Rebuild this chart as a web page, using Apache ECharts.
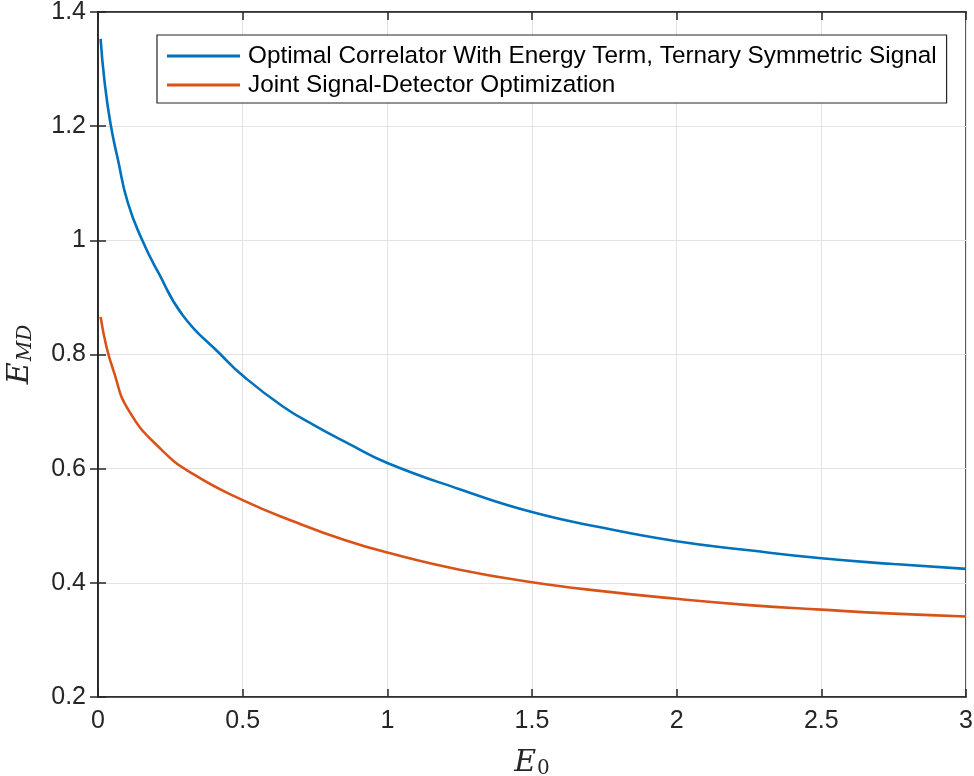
<!DOCTYPE html>
<html>
<head>
<meta charset="utf-8">
<script src="https://cdn.jsdelivr.net/npm/echarts@6/dist/echarts.min.js"></script>
<style>
html,body{margin:0;padding:0;background:#fff;}
#chart{width:974px;height:776px;}
</style>
</head>
<body>
<div id="chart"></div>
<script>
var seriesNames = [
  'Optimal Correlator With Energy Term, Ternary Symmetric Signal',
  'Joint Signal-Detector Optimization'
];
var blueX = [0.009, 0.022, 0.043, 0.069, 0.103, 0.153, 0.207, 0.294, 0.424, 0.5, 0.639, 0.754, 0.869, 1, 1.25, 1.5, 1.75, 2, 2.25, 2.5, 2.75, 3];
var blueY = [1.353, 1.281, 1.205, 1.141, 1.066, 1.0, 0.945, 0.868, 0.8, 0.763, 0.709, 0.674, 0.643, 0.61, 0.564, 0.524, 0.496, 0.473, 0.457, 0.443, 0.433, 0.4245];
var orangeX = [0.009, 0.029, 0.052, 0.105, 0.22, 0.334, 0.5, 0.679, 0.852, 1, 1.25, 1.5, 1.75, 2, 2.25, 2.5, 2.75, 3];
var orangeY = [0.866, 0.814, 0.774, 0.703, 0.633, 0.589, 0.545, 0.507, 0.475, 0.453, 0.423, 0.401, 0.385, 0.372, 0.361, 0.353, 0.346, 0.341];
var xTickLabels = ['0', '0.5', '1', '1.5', '2', '2.5', '3'];
var yTickLabels = ['0.2', '0.4', '0.6', '0.8', '1', '1.2', '1.4'];

function pairs(xs, ys) { return xs.map(function (x, i) { return [x, ys[i]]; }); }

var axisColor = '#262626';
var tickFont = { fontFamily: 'Liberation Sans, Arial, sans-serif', fontSize: 25, color: axisColor };

var chart = echarts.init(document.getElementById('chart'), null, { renderer: 'canvas' });
chart.setOption({
  animation: false,
  backgroundColor: '#fff',
  grid: { left: 98, right: 8, top: 12, bottom: 79, outerBoundsMode: 'none', containLabel: false, show: true, borderColor: axisColor, borderWidth: 1.5, backgroundColor: 'transparent' },
  legend: {
    left: 157, top: 35, orient: 'vertical',
    data: seriesNames,
    backgroundColor: '#fff',
    borderColor: axisColor, borderWidth: 1.2,
    padding: [9, 10, 6, 10],
    itemGap: 5, itemWidth: 73, itemHeight: 3, icon: 'rect',
    textStyle: { fontFamily: 'Liberation Sans, Arial, sans-serif', fontSize: 24.3, color: '#000', padding: [0, 0, 0, 3] }
  },
  xAxis: [{
    type: 'value', min: 0, max: 3, interval: 0.5,
    axisLine: { show: true, lineStyle: { color: axisColor, width: 1.5 } },
    axisTick: { show: true, inside: true, length: 8, lineStyle: { color: axisColor, width: 1.5 } },
    axisLabel: Object.assign({ margin: 12, formatter: function (v) { return xTickLabels[Math.round(v / 0.5)]; } }, tickFont),
    splitLine: { show: true, lineStyle: { color: '#e3e3e3', width: 1 } },
    name: '{e|E}{s|0}', nameLocation: 'middle', nameGap: 50,
    nameTextStyle: { rich: {
      e: { fontFamily: 'DejaVu Serif, Liberation Serif, serif', fontStyle: 'italic', fontSize: 30, color: axisColor },
      s: { fontFamily: 'DejaVu Serif, Liberation Serif, serif', fontSize: 20, color: axisColor, verticalAlign: 'bottom', padding: [12, 0, 0, 1] }
    } }
  }, {
    type: 'value', min: 0, max: 3, interval: 0.5, position: 'top',
    axisLine: { show: true, lineStyle: { color: axisColor, width: 1.5 } },
    axisTick: { show: true, inside: true, length: 8, lineStyle: { color: axisColor, width: 1.5 } },
    axisLabel: { show: false }, splitLine: { show: false }
  }],
  yAxis: [{
    type: 'value', min: 0.2, max: 1.4, interval: 0.2,
    axisLine: { show: true, lineStyle: { color: axisColor, width: 1.5 } },
    axisTick: { show: true, inside: true, length: 8, lineStyle: { color: axisColor, width: 1.5 } },
    axisLabel: Object.assign({ margin: 12, formatter: function (v) { return yTickLabels[Math.round((v - 0.2) / 0.2)]; } }, tickFont),
    splitLine: { show: true, lineStyle: { color: '#e3e3e3', width: 1 } },
    name: '{e|E}{s|MD}', nameLocation: 'middle', nameGap: 62, nameRotate: 90,
    nameTextStyle: { rich: {
      e: { fontFamily: 'DejaVu Serif, Liberation Serif, serif', fontStyle: 'italic', fontSize: 30, color: axisColor },
      s: { fontFamily: 'DejaVu Serif, Liberation Serif, serif', fontStyle: 'italic', fontSize: 20, color: axisColor, verticalAlign: 'bottom', padding: [12, 0, 0, 1] }
    } }
  }, {
    type: 'value', min: 0.2, max: 1.4, interval: 0.2, position: 'right',
    axisLine: { show: true, lineStyle: { color: axisColor, width: 1.5 } },
    axisTick: { show: true, inside: true, length: 8, lineStyle: { color: axisColor, width: 1.5 } },
    axisLabel: { show: false }, splitLine: { show: false }
  }],
  series: [{
    name: seriesNames[0], type: 'line', data: pairs(blueX, blueY),
    smooth: 0.5, showSymbol: false, symbol: 'none',
    color: '#0072BD', lineStyle: { color: '#0072BD', width: 2.6 }, z: 3
  }, {
    name: seriesNames[1], type: 'line', data: pairs(orangeX, orangeY),
    smooth: 0.5, showSymbol: false, symbol: 'none',
    color: '#D95319', lineStyle: { color: '#D95319', width: 2.6 }, z: 3
  }]
});
</script>
</body>
</html>
